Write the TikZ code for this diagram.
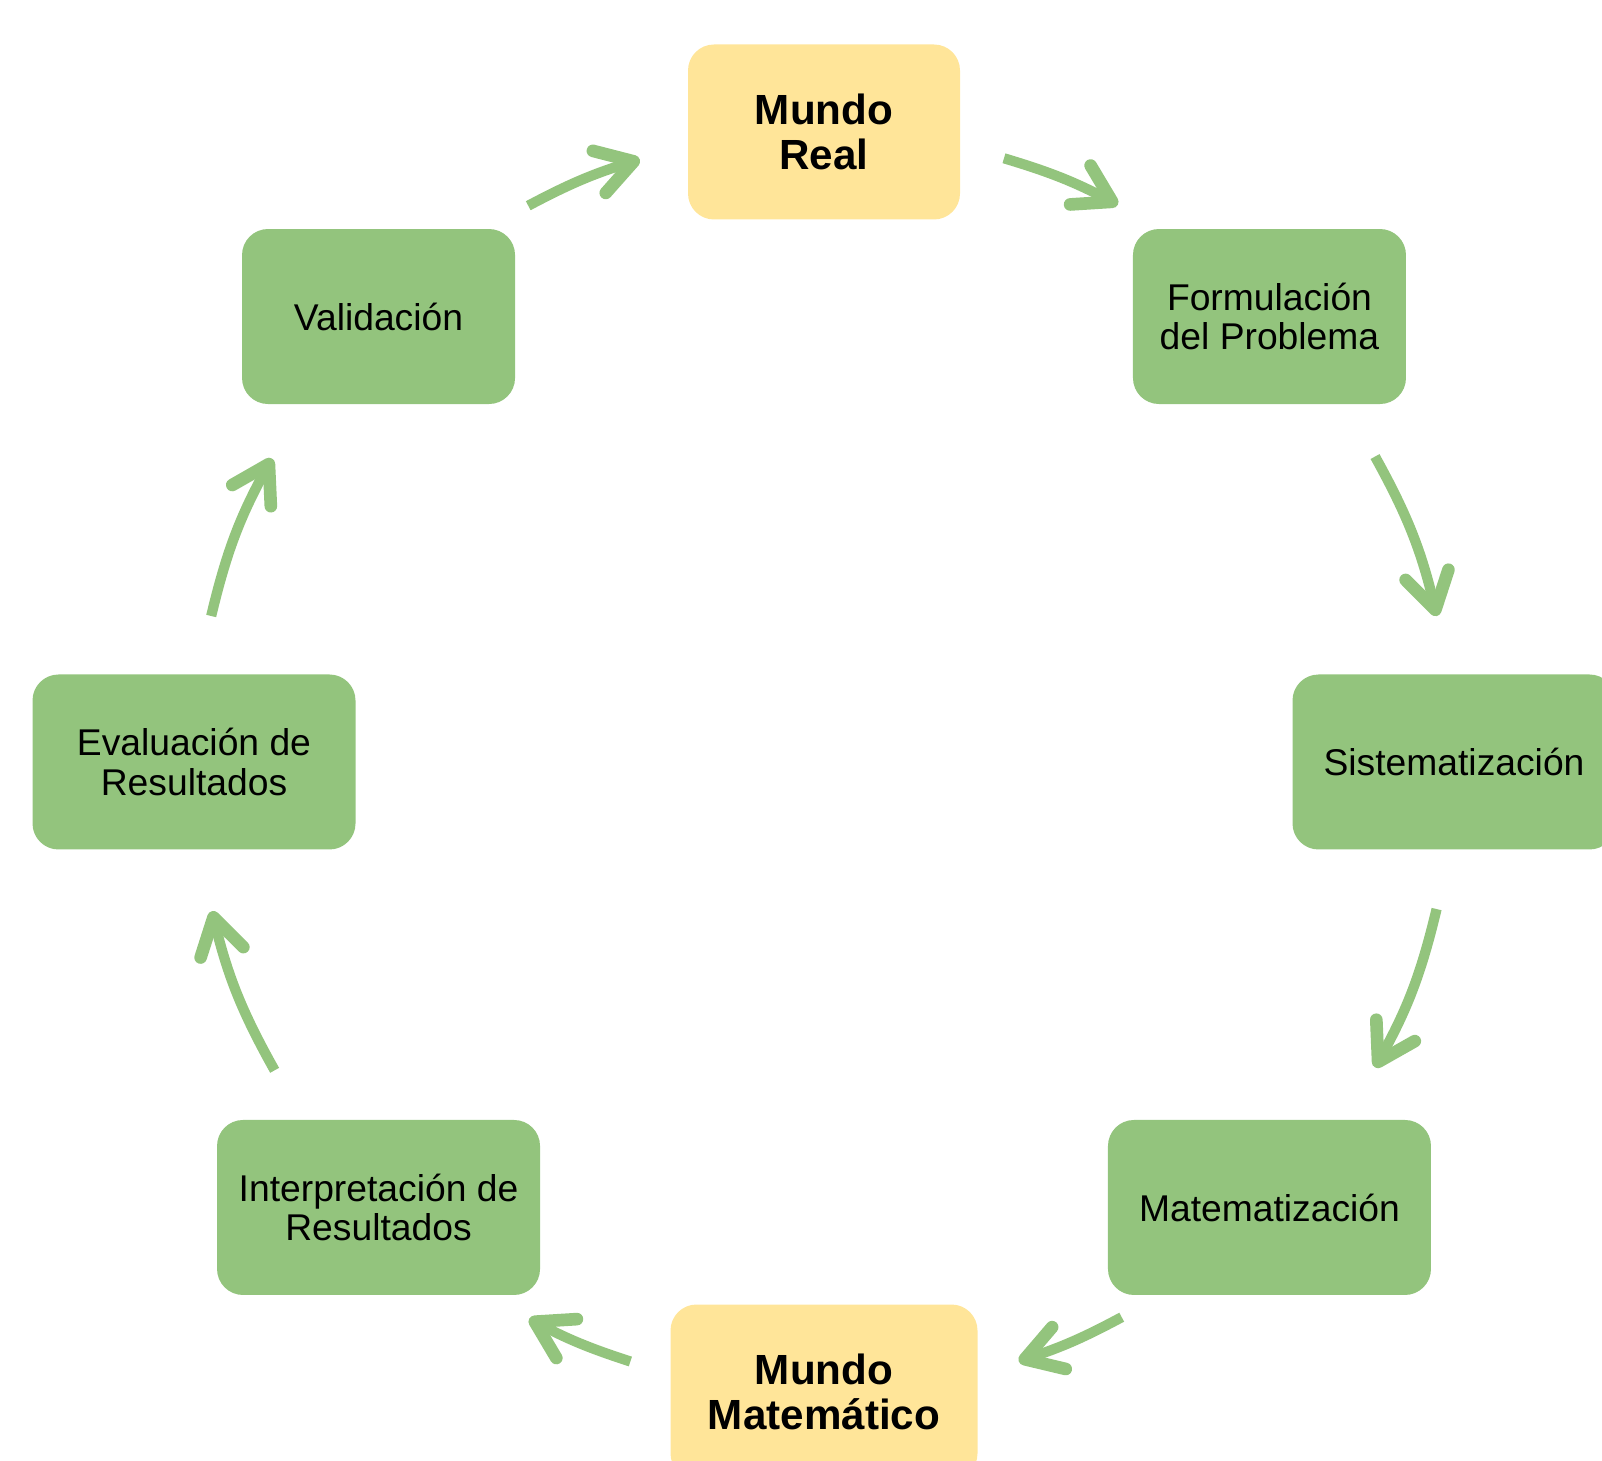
\documentclass[tikz,border=0pt]{standalone}
\usepackage{fontspec}
\setmainfont{Liberation Sans}
\usetikzlibrary{arrows.meta,calc}

\definecolor{verde}{HTML}{93C47D}
\definecolor{amarillo}{HTML}{FFE599}

\tikzset{
  fase/.style={fill=verde, rounded corners=0.26cm, minimum width=3.23cm,
    minimum height=1.75cm, align=center, font=\fontsize{10.6}{11.2}\selectfont},
  mundo/.style={fase, fill=amarillo, font=\fontsize{12}{12.6}\selectfont\bfseries},
  flecha/.style={draw=verde, line width=2.9pt,
    -{Straight Barb[length=0.36cm,width=0.44cm,line width=3.6pt,round]}}
}

\begin{document}
\begin{tikzpicture}
        \useasboundingbox (0,0) rectangle (16.02,14.60);
        % centro do ciclo
        \coordinate (centro) at (8.24,6.98);

        % fases
        \node[mundo, minimum width=2.72cm] (real) at ($(centro)+(90:6.3)$) {Mundo\\Real};
        \node[fase, minimum width=2.73cm] (form) at ($(centro)+(45:6.3)$) {Formulación\\del Problema};
        \node[fase] (sist) at ($(centro)+(0:6.3)$) {Sistematización};
        \node[fase] (matz) at ($(centro)+(-45:6.3)$) {Matematización};
        \node[mundo, minimum width=3.07cm] (mmat) at ($(centro)+(-90:6.3)$) {Mundo\\Matemático};
        \node[fase] (interp) at ($(centro)+(-135:6.3)$) {Interpretación de\\Resultados};
        \node[fase] (eval) at ($(centro)+(180:6.3)$) {Evaluación de\\Resultados};
        \node[fase, minimum width=2.73cm] (valid) at ($(centro)+(135:6.3)$) {Validación};

        % flechas
        \foreach \de/\para/\ini/\fim/\curva in {
        valid/real/17/17/5.5, real/form/16.6/17.2/5.6,
        form/sist/16/13.4/7.8, sist/matz/13.5/16/7.8,
        matz/mmat/16.8/18/5.1, mmat/interp/17.9/17.1/5,
        interp/eval/15.7/13.7/7.8, eval/valid/13.4/16.2/7.7}
        \draw[flecha] ($(centro)!1!-\ini:(\de)$) to[bend left=\curva] ($(centro)!1!\fim:(\para)$);
    \end{tikzpicture}
\end{document}
